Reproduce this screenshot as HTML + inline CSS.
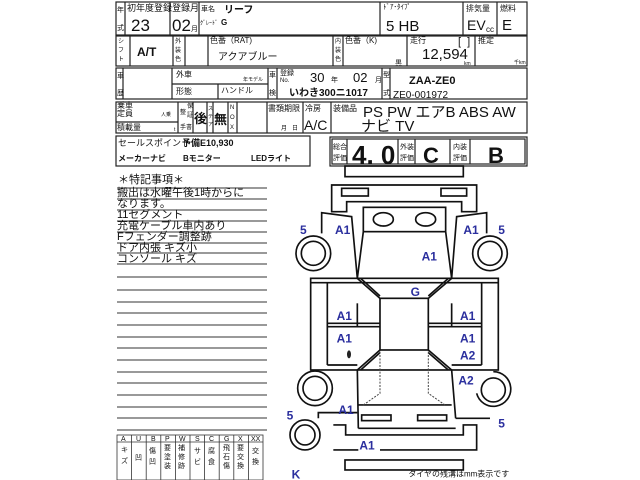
<!DOCTYPE html>
<html><head><meta charset="utf-8"><style>
html,body{margin:0;padding:0;background:#fff;width:640px;height:480px;overflow:hidden}
svg{display:block}
text{font-family:"Liberation Sans","Noto Sans CJK JP",sans-serif;fill:#111}
.b{font-weight:bold}
.lb{fill:#2b2f9e;font-weight:bold;font-size:36px}
</style></head><body>
<svg width="640" height="480" viewBox="0 0 640 480" xmlns="http://www.w3.org/2000/svg">
<g fill="none" stroke="#222" stroke-width="1.2">
<!-- row1 -->
<rect x="116" y="2" width="411" height="33"/>
<line x1="125" y1="2" x2="125" y2="35"/><line x1="170" y1="2" x2="170" y2="35"/><line x1="199" y1="2" x2="199" y2="35"/>
<line x1="380" y1="2" x2="380" y2="35"/><line x1="463" y1="2" x2="463" y2="35"/><line x1="497" y1="2" x2="497" y2="35"/>
<!-- row2 -->
<rect x="116" y="36" width="411" height="30"/>
<line x1="130" y1="36" x2="130" y2="66"/><line x1="173" y1="36" x2="173" y2="66"/><line x1="185" y1="36" x2="185" y2="66"/>
<line x1="208" y1="36" x2="208" y2="66"/><line x1="333" y1="36" x2="333" y2="66"/><line x1="343" y1="36" x2="343" y2="66"/>
<line x1="407" y1="36" x2="407" y2="66"/><line x1="475" y1="36" x2="475" y2="66"/>
<!-- row3 -->
<rect x="116" y="68" width="411" height="31"/>
<line x1="123" y1="68" x2="123" y2="99"/><line x1="172" y1="68" x2="172" y2="99"/><line x1="172" y1="84" x2="268" y2="84"/>
<line x1="218" y1="84" x2="218" y2="99"/><line x1="268" y1="68" x2="268" y2="99"/><line x1="277" y1="68" x2="277" y2="99"/>
<line x1="382" y1="68" x2="382" y2="99"/><line x1="390" y1="68" x2="390" y2="99"/>
<!-- row4 -->
<rect x="116" y="102" width="411" height="31"/>
<line x1="116" y1="122" x2="178" y2="122"/>
<line x1="178" y1="102" x2="178" y2="133"/><line x1="193" y1="102" x2="193" y2="133"/><line x1="207" y1="102" x2="207" y2="133"/>
<line x1="213" y1="102" x2="213" y2="133"/><line x1="228" y1="102" x2="228" y2="133"/><line x1="237" y1="102" x2="237" y2="133"/>
<line x1="267" y1="102" x2="267" y2="133"/><line x1="303" y1="102" x2="303" y2="133"/><line x1="331" y1="102" x2="331" y2="133"/>
<!-- row5 -->
<rect x="116" y="136" width="194" height="30"/>
<rect x="330" y="137" width="197" height="29"/>
<rect x="332" y="139" width="193" height="25"/>
<line x1="347" y1="139" x2="347" y2="164"/><line x1="398" y1="139" x2="398" y2="164"/><line x1="415" y1="139" x2="415" y2="164"/>
<line x1="450" y1="139" x2="450" y2="164"/><line x1="470" y1="139" x2="470" y2="164"/>
</g>
<!-- row1 text -->
<text x="117" y="12" font-size="7">年</text><text x="117" y="30" font-size="7">式</text>
<text x="127" y="11" font-size="9">初年度登録</text><text x="131" y="31" font-size="17">23</text>
<text x="172" y="11" font-size="9">登録月</text><text x="172" y="31" font-size="17">02</text><text x="191" y="31" font-size="7">月</text>
<text x="201" y="11" font-size="7">車名</text><text x="224" y="13" font-size="10" class="b">リーフ</text>
<text x="200" y="25" font-size="6">ｸﾞﾚｰﾄﾞ</text><text x="221" y="25" font-size="8" class="b">G</text>
<text x="383" y="9" font-size="7">ﾄﾞｱ･ﾀｲﾌﾟ</text><text x="386" y="31" font-size="15">5 HB</text>
<text x="466" y="11" font-size="8">排気量</text><text x="467" y="30" font-size="14">EV</text><text x="486" y="32" font-size="8">cc</text>
<text x="500" y="11" font-size="8">燃料</text><text x="502" y="30" font-size="15">E</text>
<!-- row2 -->
<text x="118" y="43" font-size="6">シ</text><text x="118" y="52" font-size="6">フ</text><text x="118" y="61" font-size="6">ト</text>
<text x="137" y="56" font-size="12" class="b">A/T</text>
<text x="175" y="43" font-size="6">外</text><text x="175" y="52" font-size="6">装</text><text x="175" y="61" font-size="6">色</text>
<text x="210" y="43" font-size="8">色番（RAT)</text><text x="218" y="60" font-size="10">アクアブルー</text>
<text x="335" y="43" font-size="6">内</text><text x="335" y="52" font-size="6">装</text><text x="335" y="61" font-size="6">色</text>
<text x="345" y="43" font-size="8">色番（K)</text><text x="395" y="65" font-size="7">黒</text>
<text x="410" y="43" font-size="8">走行</text><text x="458" y="45" font-size="11">[ &#160;]</text>
<text x="422" y="59" font-size="15">12,594</text><text x="464" y="65" font-size="5">km</text>
<text x="478" y="43" font-size="8">推定</text><text x="514" y="64" font-size="5">千km</text>
<!-- row3 -->
<text x="117" y="78" font-size="7">車</text><text x="117" y="95" font-size="7">歴</text>
<text x="176" y="77" font-size="8">外車</text><text x="243" y="81" font-size="5">年モデル</text>
<text x="176" y="94" font-size="8">形態</text><text x="221" y="93" font-size="8">ハンドル</text>
<text x="269" y="77" font-size="7">車</text><text x="269" y="95" font-size="7">検</text>
<text x="280" y="75" font-size="7">登録</text><text x="280" y="82" font-size="6">No.</text>
<text x="310" y="82" font-size="13">30</text><text x="331" y="82" font-size="7">年</text>
<text x="353" y="82" font-size="13">02</text><text x="375" y="82" font-size="7">月</text>
<text x="289" y="96" font-size="10" class="b">いわき300ニ1017</text>
<text x="383" y="77" font-size="7">型</text><text x="383" y="95" font-size="7">式</text>
<text x="409" y="84" font-size="11" class="b">ZAA-ZE0</text><text x="393" y="98" font-size="10">ZE0-001972</text>
<!-- row4 -->
<text x="117" y="108" font-size="8">乗車</text><text x="117" y="116" font-size="8">定員</text><text x="161" y="116" font-size="5">人乗</text>
<text x="117" y="130" font-size="8">積載量</text><text x="174" y="131" font-size="5">t</text>
<text x="180" y="114" font-size="6">整</text><text x="187" y="108" font-size="6">保</text><text x="187" y="117" font-size="6">証</text><text x="180" y="129" font-size="6">手書</text>
<text x="194" y="123" font-size="13" class="b">後</text>
<text x="208" y="110" font-size="5">ス</text><text x="208" y="118" font-size="5">テ</text><text x="208" y="126" font-size="5">ア</text>
<text x="214" y="124" font-size="13" class="b">無</text>
<text x="230" y="109" font-size="6">N</text><text x="230" y="119" font-size="6">O</text><text x="230" y="129" font-size="6">X</text>
<text x="268" y="111" font-size="8">書類期限</text><text x="281" y="130" font-size="6">月 &#160;&#160;日</text>
<text x="305" y="111" font-size="8">冷房</text><text x="304" y="130" font-size="14">A/C</text>
<text x="333" y="111" font-size="8">装備品</text>
<text x="363" y="117" font-size="15">PS PW エアB ABS AW</text>
<text x="361" y="131" font-size="15">ナビ TV</text>
<!-- row5 -->
<text x="118" y="146" font-size="9">セールスポイント</text><text x="182" y="146" font-size="9" class="b">予備E10,930</text>
<text x="118" y="161" font-size="8" class="b">メーカーナビ</text><text x="183" y="161" font-size="8" class="b">Bモニター</text><text x="251" y="161" font-size="8" class="b">LEDライト</text>
<text x="333" y="149" font-size="7">総合</text><text x="333" y="160" font-size="7">評価</text>
<text x="352" y="164" font-size="26" class="b">4. 0</text>
<text x="400" y="149" font-size="7">外装</text><text x="400" y="160" font-size="7">評価</text>
<text x="423" y="163" font-size="22" class="b">C</text>
<text x="453" y="149" font-size="7">内装</text><text x="453" y="160" font-size="7">評価</text>
<text x="488" y="163" font-size="22" class="b">B</text>
<!-- notes -->
<g stroke="#333" stroke-width="1">
<line x1="117" y1="188" x2="267" y2="188"/><line x1="117" y1="199" x2="267" y2="199"/><line x1="117" y1="210" x2="267" y2="210"/>
<line x1="117" y1="221" x2="267" y2="221"/><line x1="117" y1="232" x2="267" y2="232"/><line x1="117" y1="243" x2="267" y2="243"/>
<line x1="117" y1="253" x2="267" y2="253"/><line x1="117" y1="264" x2="267" y2="264"/><line x1="117" y1="277" x2="267" y2="277"/>
<line x1="117" y1="290" x2="267" y2="290"/><line x1="117" y1="302" x2="267" y2="302"/><line x1="117" y1="313" x2="267" y2="313"/>
<line x1="117" y1="325" x2="267" y2="325"/><line x1="117" y1="337" x2="267" y2="337"/><line x1="117" y1="348" x2="267" y2="348"/>
<line x1="117" y1="360" x2="267" y2="360"/><line x1="117" y1="372" x2="267" y2="372"/><line x1="117" y1="383" x2="267" y2="383"/>
<line x1="117" y1="395" x2="267" y2="395"/><line x1="117" y1="407" x2="267" y2="407"/><line x1="117" y1="418" x2="267" y2="418"/>
<line x1="117" y1="430" x2="267" y2="430"/>
</g>
<g font-size="11">
<text x="118" y="183">＊特記事項＊</text>
<text x="117" y="196">搬出は水曜午後1時からに</text>
<text x="117" y="207">なります。</text>
<text x="117" y="218">11セグメント</text>
<text x="117" y="229">充電ケーブル車内あり</text>
<text x="117" y="240">Fフェンダー調整跡</text>
<text x="117" y="251">ドア内張 キズ小</text>
<text x="117" y="262">コンソール キズ</text>
</g>
<!-- legend -->
<g fill="none" stroke="#333" stroke-width="0.8">
<rect x="117" y="435" width="146" height="45"/><line x1="117" y1="442" x2="263" y2="442"/>
<line x1="131.6" y1="435" x2="131.6" y2="480"/><line x1="146.2" y1="435" x2="146.2" y2="480"/><line x1="160.8" y1="435" x2="160.8" y2="480"/>
<line x1="175.4" y1="435" x2="175.4" y2="480"/><line x1="190" y1="435" x2="190" y2="480"/><line x1="204.6" y1="435" x2="204.6" y2="480"/>
<line x1="219.2" y1="435" x2="219.2" y2="480"/><line x1="233.8" y1="435" x2="233.8" y2="480"/><line x1="248.4" y1="435" x2="248.4" y2="480"/>
</g>
<g font-size="7">
<text x="121" y="441">A</text><text x="136" y="441">U</text><text x="151" y="441">B</text><text x="165" y="441">P</text><text x="179" y="441">W</text>
<text x="195" y="441">S</text><text x="209" y="441">C</text><text x="224" y="441">G</text><text x="238" y="441">X</text><text x="251" y="441">XX</text>
<text x="121" y="452">キ</text><text x="121" y="463">ズ</text><text x="135" y="460">凹</text>
<text x="149" y="453">傷</text><text x="149" y="464">凹</text>
<text x="164" y="450">要</text><text x="164" y="459">塗</text><text x="164" y="468">装</text>
<text x="178" y="450">補</text><text x="178" y="459">修</text><text x="178" y="468">跡</text>
<text x="194" y="453">サ</text><text x="194" y="464">ビ</text><text x="208" y="453">腐</text><text x="208" y="464">食</text>
<text x="223" y="450">飛</text><text x="223" y="459">石</text><text x="223" y="468">傷</text>
<text x="237" y="450">要</text><text x="237" y="459">交</text><text x="237" y="468">換</text>
<text x="252" y="453">交</text><text x="252" y="464">換</text>
</g>
<!-- car diagram in zoom coords -->
<g transform="translate(280,170) scale(0.3333)">
<g fill="none" stroke="#111" stroke-width="5">
<rect x="195" y="-12" width="355" height="32"/>
<path d="M155,45 H590 V125 H545 V95 H200 V125 H155 Z"/>
<rect x="185" y="55" width="80" height="23"/><rect x="483" y="55" width="77" height="23"/>
<rect x="250" y="112" width="247" height="73"/>
<ellipse cx="310" cy="148" rx="30" ry="20"/><ellipse cx="437" cy="148" rx="30" ry="20"/>
<path d="M250,185 L232,325 M497,185 L515,325"/>
<path d="M125,190 V128 L215,140 L232,325 M620,190 V128 L530,140 L515,325"/>
<circle cx="100" cy="250" r="52"/><circle cx="100" cy="250" r="36"/>
<circle cx="630" cy="250" r="52"/><circle cx="630" cy="250" r="36"/>
<circle cx="105" cy="655" r="52"/><circle cx="105" cy="655" r="36"/>
<path d="M640,605 A52,52 0 1 1 590,670"/><circle cx="640" cy="660" r="36"/>
<circle cx="75" cy="795" r="45"/><circle cx="75" cy="795" r="30"/>
<rect x="92" y="325" width="563" height="275"/>
<line x1="142" y1="338" x2="142" y2="585"/><line x1="605" y1="338" x2="605" y2="585"/>
<line x1="92" y1="338" x2="655" y2="338"/>
<line x1="142" y1="460" x2="300" y2="460"/><line x1="142" y1="470" x2="300" y2="470"/>
<line x1="445" y1="460" x2="605" y2="460"/><line x1="445" y1="470" x2="605" y2="470"/>
<line x1="142" y1="585" x2="232" y2="585"/><line x1="515" y1="585" x2="605" y2="585"/>
<rect x="300" y="385" width="145" height="155"/>
<path d="M232,325 L300,385 M242,325 L300,378 M515,325 L445,385 M505,325 L445,378"/>
<path d="M300,540 L232,600 M300,548 L242,600 M445,540 L515,600 M445,548 L505,600"/>
<line x1="232" y1="400" x2="232" y2="470"/><line x1="515" y1="400" x2="515" y2="470"/>
<path d="M232,600 L235,775 M515,600 L527,745"/>
<line x1="235" y1="705" x2="515" y2="705"/>
<path d="M115,745 V728 H232 M527,745 H630"/>
<line x1="235" y1="775" x2="527" y2="775"/>
<rect x="245" y="735" width="88" height="17"/><rect x="413" y="735" width="87" height="17"/>
<path d="M160,765 H197 V795 H550 V765 H590 V840 H300 M235,840 H160 Z"/>
<rect x="195" y="870" width="355" height="30"/>
</g>
<g fill="none" stroke="#444" stroke-width="3" stroke-dasharray="6,4">
<path d="M300,545 V670 L250,705 M445,545 V670 L495,705"/>
</g>
<ellipse cx="207" cy="553" rx="6" ry="12" fill="#222"/>
<text class="lb" x="60" y="192">5</text><text class="lb" x="165" y="192">A1</text>
<text class="lb" x="550" y="192">A1</text><text class="lb" x="655" y="192">5</text>
<text class="lb" x="425" y="272">A1</text><text class="lb" x="392" y="378">G</text>
<text class="lb" x="170" y="450">A1</text><text class="lb" x="540" y="450">A1</text>
<text class="lb" x="170" y="518">A1</text><text class="lb" x="540" y="518">A1</text>
<text class="lb" x="540" y="568">A2</text><text class="lb" x="535" y="643">A2</text>
<text class="lb" x="175" y="732">A1</text><text class="lb" x="20" y="748">5</text>
<text class="lb" x="655" y="772">5</text><text class="lb" x="238" y="838">A1</text>
<text class="lb" x="35" y="925">K</text>
<text x="385" y="920" font-size="24">タイヤの残溝はmm表示です</text>
</g>
</svg>
</body></html>
